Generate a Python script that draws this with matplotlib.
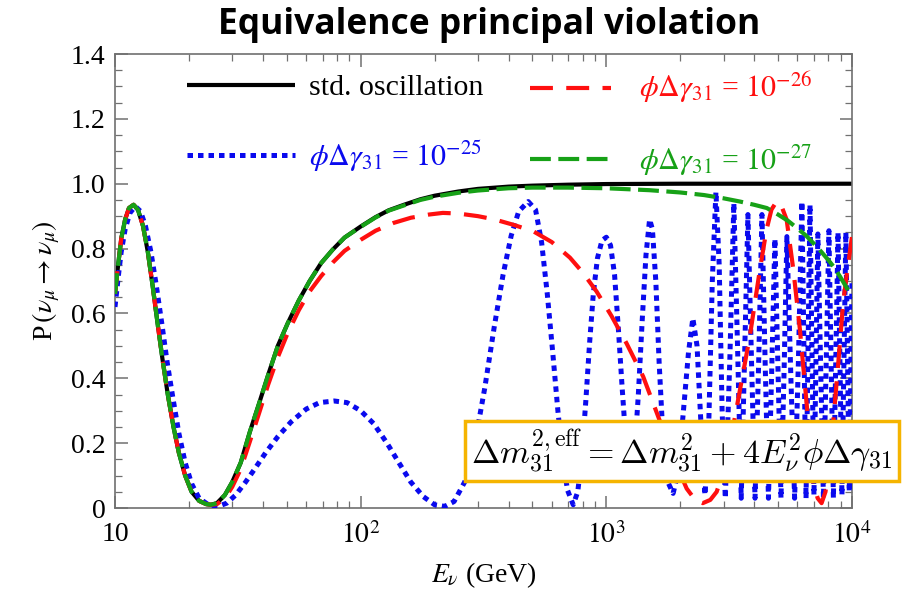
import matplotlib
matplotlib.use("Agg")
import matplotlib.pyplot as plt
from matplotlib.ticker import FixedLocator, NullFormatter, LogLocator, MultipleLocator, FuncFormatter

# ---------------- data ----------------
std_E = [10, 10.3, 10.6, 11.0, 11.4, 11.9, 12.4, 13.0, 13.6, 14.2, 14.9, 15.6, 16.4, 17.3,
         18.2, 19.3, 20.5, 22.0, 23.5, 24.6, 26.0, 28.0, 30.0, 32.5, 35.4, 38.5, 42.0, 46.0,
         50.5, 56.0, 62.0, 69.0, 77.0, 86.0, 100, 115, 130, 150, 175, 200, 250, 300, 400,
         500, 700, 1000, 2000, 5000, 10000]
std_P = [0.66, 0.75, 0.83, 0.89, 0.925, 0.935, 0.92, 0.87, 0.79, 0.69, 0.57, 0.46, 0.35, 0.25,
         0.17, 0.10, 0.05, 0.022, 0.012, 0.01, 0.015, 0.04, 0.08, 0.14, 0.235, 0.32, 0.41, 0.50,
         0.57, 0.64, 0.70, 0.755, 0.797, 0.834, 0.868, 0.897, 0.918, 0.935, 0.952, 0.963, 0.976, 0.984, 0.991,
         0.994, 0.997, 0.999, 1.0, 1.0, 1.0]

red_E = [10, 10.3, 10.6, 11.0, 11.4, 11.9, 12.4, 13.0, 13.6, 14.2, 14.9, 15.6, 16.4, 17.3,
         18.2, 19.3, 20.5, 22.0, 23.5, 24.6, 26.0, 28.0, 30.0, 32.5, 35.4, 38.5, 42.0, 46.0,
         50.5, 56.0, 62.0, 69.0, 77.0, 86.0, 100, 115, 136, 160, 190, 216, 250, 300, 350, 420,
         505, 600, 711, 800, 912, 1050, 1208, 1413, 1652, 1850, 2123, 2300, 2470, 2650, 2813,
         3050, 3281, 3550, 3837, 4217, 4487, 4700, 4930, 5170, 5420, 5770, 6140, 6535, 6955,
         7250, 7520, 7800, 8100, 8380, 8800, 9200, 9600, 10000]
red_P = [0.66, 0.75, 0.83, 0.89, 0.925, 0.935, 0.92, 0.87, 0.79, 0.69, 0.57, 0.46, 0.35, 0.25,
         0.17, 0.10, 0.05, 0.022, 0.012, 0.01, 0.012, 0.03, 0.065, 0.12, 0.205, 0.29, 0.38, 0.465,
         0.54, 0.61, 0.668, 0.715, 0.757, 0.793, 0.827, 0.855, 0.879, 0.895, 0.905, 0.91, 0.908, 0.90,
         0.89, 0.873, 0.853, 0.82, 0.772, 0.727, 0.668, 0.592, 0.508, 0.405, 0.268, 0.165, 0.06,
         0.025, 0.015, 0.025, 0.05, 0.13, 0.25, 0.39, 0.529, 0.735, 0.858, 0.92, 0.945, 0.93,
         0.889, 0.735, 0.549, 0.323, 0.076, 0.03, 0.015, 0.05, 0.14, 0.261, 0.45, 0.632, 0.74, 0.837]

green_E = [10, 10.3, 10.6, 11.0, 11.4, 11.9, 12.4, 13.0, 13.6, 14.2, 14.9, 15.6, 16.4, 17.3,
           18.2, 19.3, 20.5, 22.0, 23.5, 24.6, 26.0, 28.0, 30.0, 32.5, 35.4, 38.5, 42.0, 46.0,
           50.5, 56.0, 62.0, 69.0, 77.0, 86.0, 100, 115, 130, 150, 175, 200, 250, 300, 400,
           500, 700, 1000, 1500, 2000, 2500, 3000, 3500, 4000, 4500, 5000, 5500, 6000, 6500,
           7000, 7500, 8000, 8500, 9000, 9500, 10000]
green_P = [0.66, 0.75, 0.83, 0.89, 0.925, 0.935, 0.92, 0.87, 0.79, 0.69, 0.57, 0.46, 0.35, 0.25,
           0.17, 0.10, 0.05, 0.022, 0.012, 0.01, 0.015, 0.04, 0.08, 0.14, 0.235, 0.32, 0.41, 0.50,
           0.57, 0.64, 0.70, 0.755, 0.797, 0.834, 0.867, 0.896, 0.917, 0.933, 0.95, 0.96, 0.972, 0.979, 0.986,
           0.988, 0.988, 0.986, 0.98, 0.973, 0.965, 0.955, 0.945, 0.935, 0.925, 0.905, 0.885, 0.862, 0.84,
           0.815, 0.79, 0.765, 0.74, 0.71, 0.68, 0.652]

blue_E = [10, 10.3, 10.6, 11.0, 11.5, 12.1, 12.7, 13.3, 14.0, 14.7, 15.5, 16.3, 17.2, 18.2,
          19.3, 20.5, 22.0, 24.0, 26.3, 28.5, 31, 34, 37, 41, 46, 52, 60, 68, 78, 88, 100, 113,
          128, 143, 160, 180, 200, 220, 240, 265, 290, 320, 350, 380, 410, 440, 481, 515, 545,
          575, 605, 635, 665, 695, 733, 765, 795, 825, 855, 885, 920, 960, 1000, 1040, 1080,
          1120, 1160, 1200, 1250, 1300, 1350, 1400, 1450, 1500, 1540, 1590, 1640, 1700, 1780,
          1870, 1960, 2060, 2160, 2250, 2340, 2420, 2520, 2600, 2700, 2793, 2880, 2960, 3050,
          3180, 3304, 3420, 3540, 3650, 3770, 3900, 4030, 4170, 4299, 4430, 4570, 4710, 4855,
          5000, 5140, 5290, 5432, 5640, 5840, 6050, 6252, 6500, 6745, 7000, 7262, 7650, 8054,
          8400, 8770, 9100, 9442, 9750, 10000]
blue_P = [0.62, 0.71, 0.79, 0.86, 0.91, 0.93, 0.915, 0.87, 0.79, 0.69, 0.57, 0.45, 0.34, 0.23,
          0.14, 0.075, 0.03, 0.01, 0.005, 0.015, 0.04, 0.08, 0.12, 0.17, 0.22, 0.265, 0.305, 0.325,
          0.33, 0.325, 0.30, 0.26, 0.20, 0.14, 0.08, 0.035, 0.01, 0.005, 0.02, 0.08, 0.19, 0.37,
          0.56, 0.72, 0.84, 0.915, 0.945, 0.92, 0.82, 0.66, 0.48, 0.30, 0.15, 0.055, 0.01, 0.05,
          0.16, 0.33, 0.51, 0.66, 0.77, 0.825, 0.835, 0.81, 0.72, 0.55, 0.37, 0.21, 0.10, 0.16,
          0.35, 0.58, 0.78, 0.89, 0.86, 0.70, 0.45, 0.22, 0.08, 0.045, 0.11, 0.30, 0.48, 0.585,
          0.50, 0.28, 0.04, 0.20, 0.70, 0.975, 0.75, 0.30, 0.03, 0.45, 0.94, 0.50, 0.03, 0.45,
          0.905, 0.45, 0.03, 0.45, 0.905, 0.45, 0.03, 0.42, 0.83, 0.42, 0.03, 0.42, 0.837, 0.40,
          0.03, 0.45, 0.945, 0.03, 0.935, 0.04, 0.845, 0.03, 0.855, 0.03, 0.85, 0.04, 0.85, 0.05, 0.70]

x_ticks = [10, 100, 1000, 10000]
x_tick_labels = ["10", r"$10^2$", r"$10^3$", r"$10^4$"]
y_ticks = [0, 0.2, 0.4, 0.6, 0.8, 1.0, 1.2, 1.4]

labels = ["std. oscillation", r"$\phi\Delta\gamma_{31}$ = $10^{-25}$",
          r"$\phi\Delta\gamma_{31}$ = $10^{-26}$", r"$\phi\Delta\gamma_{31}$ = $10^{-27}$"]

# ---------------- style ----------------
plt.rcParams["font.family"] = ["Liberation Serif", "DejaVu Serif"]
plt.rcParams["mathtext.fontset"] = "stix"

W, H = 912, 595
fig = plt.figure(figsize=(W / 100, H / 100), dpi=100)
ax = fig.add_axes([115 / W, 1 - 508 / H, (852 - 115) / W, (508 - 54) / H])

c_black, c_red, c_blue, c_green = "#000000", "#ff0f0f", "#0a0aee", "#17a117"

l_black, = ax.plot(std_E, std_P, color=c_black, lw=3.0, solid_capstyle="butt", zorder=2)
l_blue, = ax.plot(blue_E, blue_P, color=c_blue, lw=3.6, ls=(0, (1.1, 1.0)), zorder=3)
l_red, = ax.plot(red_E, red_P, color=c_red, lw=3.0, ls=(0, (5.5, 3.2)), zorder=4)
l_green, = ax.plot(green_E, green_P, color=c_green, lw=3.0, ls=(0, (5.0, 1.8)), zorder=5)

ax.set_xscale("log")
ax.set_xlim(10, 10000)
ax.set_ylim(0, 1.4)
ax.xaxis.set_major_locator(FixedLocator(x_ticks))
ax.set_xticklabels(x_tick_labels)
ax.xaxis.set_minor_locator(LogLocator(base=10, subs=range(2, 10)))
ax.xaxis.set_minor_formatter(NullFormatter())
ax.yaxis.set_major_locator(FixedLocator(y_ticks))
ax.yaxis.set_major_formatter(FuncFormatter(lambda v, p: "0" if abs(v) < 1e-9 else f"{v:.1f}"))
ax.yaxis.set_minor_locator(MultipleLocator(0.05))

spine_c = "#707070"
for s in ax.spines.values():
    s.set_color(spine_c)
    s.set_linewidth(1.2)
ax.tick_params(which="both", direction="in", top=True, right=True, color=spine_c)
ax.tick_params(which="major", length=9, width=1.1, labelsize=20)
ax.tick_params(axis="x", which="major", pad=10)
ax.tick_params(axis="y", which="major", pad=7)
ax.tick_params(which="minor", length=5, width=0.9)

ax.set_xlabel(r"$E_\nu$ (GeV)", fontsize=20, labelpad=8)
ax.set_ylabel(r"P$\,(\nu_\mu \rightarrow \nu_\mu)$", fontsize=20, labelpad=6)

fig.text(489 / W, 1 - 25 / H, "Equivalence principal violation", ha="center", va="center",
         fontsize=25.5, fontweight="bold", family=["Open Sans", "DejaVu Sans"])

leg1 = ax.legend([l_black, l_blue], [labels[0], labels[1]], loc="center left",
                 bbox_to_anchor=(187 / W, 1 - 124 / H), bbox_transform=fig.transFigure,
                 frameon=False, fontsize=21.5, handlelength=3.6, handletextpad=0.5,
                 labelspacing=1.25, borderpad=0, borderaxespad=0)
ax.add_artist(leg1)
leg2 = ax.legend([l_red, l_green], [labels[2], labels[3]], loc="center left",
                 bbox_to_anchor=(530 / W, 1 - 124 / H), bbox_transform=fig.transFigure,
                 frameon=False, fontsize=21.5, handlelength=2.7, handletextpad=0.95,
                 labelspacing=1.25, borderpad=0, borderaxespad=0)
for lg in (leg1, leg2):
    for t, ln in zip(lg.get_texts(), lg.get_lines()):
        t.set_color(ln.get_color())

fig.text(682 / W, 1 - 451 / H,
         r"$\Delta m^{2,\mathrm{eff}}_{31} = \Delta m^2_{31} + 4E_\nu^2\phi\Delta\gamma_{31}$",
         ha="center", va="center", fontsize=24.5, math_fontfamily="cm", zorder=10,
         bbox=dict(boxstyle="square,pad=0.18", facecolor="white", edgecolor="#f5b400", linewidth=2.5))

fig.savefig("out.png", dpi=100)
